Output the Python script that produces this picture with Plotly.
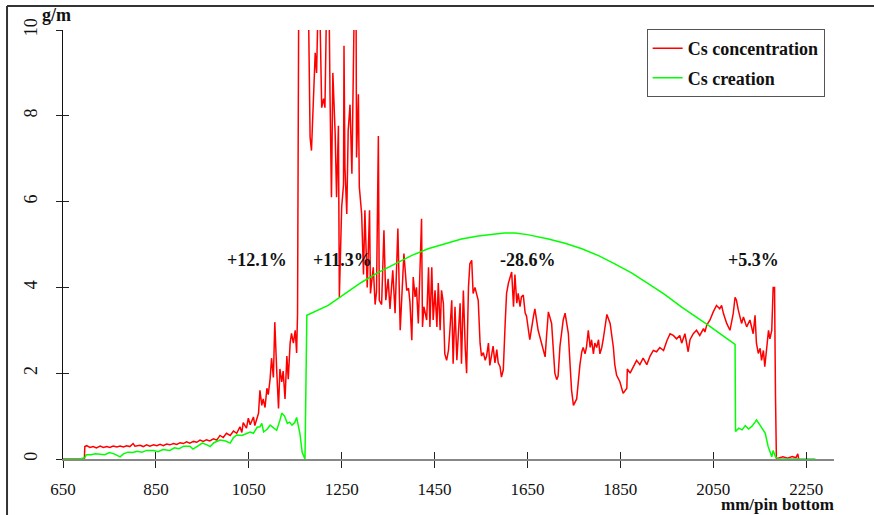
import plotly.graph_objects as go

# ---------------- data ----------------
conc_x = [650, 696, 697, 701, 708, 715, 722, 730, 737, 744, 751, 758, 766, 773, 780, 787, 794, 801, 805,
          816, 823, 830, 837, 845, 852, 859, 866, 873, 880, 888, 895, 902, 909, 916, 923, 931, 938, 945,
          952, 959, 966, 974, 981, 988, 995, 1002, 1010, 1017, 1024, 1031, 1035, 1038, 1045, 1049, 1053,
          1060, 1063, 1067, 1071, 1074, 1078, 1081, 1085, 1089, 1092, 1096, 1099, 1103, 1106, 1110, 1114,
          1117, 1121, 1124, 1128, 1132, 1135, 1139, 1142, 1146, 1150, 1153, 1155, 1158, 1160, 1178, 1182,
          1185, 1189, 1193, 1196, 1200, 1203, 1207, 1211, 1214, 1218, 1223, 1225, 1228, 1231, 1236, 1239,
          1243, 1245, 1250, 1254, 1255, 1257, 1261, 1264, 1268, 1272, 1274, 1277, 1281, 1282, 1286, 1288,
          1293, 1297, 1300, 1305, 1310, 1312, 1318, 1322, 1325, 1329, 1331, 1336, 1341, 1345, 1350, 1354,
          1360, 1365, 1371, 1374, 1376, 1384, 1390, 1394, 1397, 1401, 1404, 1408, 1411, 1415, 1419, 1422,
          1424, 1427, 1433, 1437, 1440, 1444, 1447, 1451, 1455, 1458, 1462, 1465, 1469, 1472, 1476, 1480,
          1483, 1487, 1490, 1494, 1498, 1501, 1505, 1508, 1512, 1516, 1519, 1523, 1526, 1530, 1533, 1537,
          1541, 1544, 1548, 1551, 1555, 1559, 1562, 1566, 1569, 1573, 1576, 1580, 1584, 1587, 1591, 1594,
          1598, 1602, 1605, 1609, 1612, 1616, 1620, 1623, 1627, 1630, 1634, 1637, 1641, 1645, 1648, 1655,
          1663, 1666, 1673, 1681, 1688, 1691, 1695, 1702, 1706, 1709, 1713, 1716, 1720, 1724, 1727, 1731,
          1734, 1738, 1742, 1745, 1749, 1756, 1763, 1767, 1770, 1774, 1777, 1781, 1785, 1788, 1792, 1795,
          1799, 1803, 1806, 1810, 1813, 1821, 1828, 1835, 1838, 1842, 1849, 1856, 1864, 1865, 1871, 1878,
          1885, 1892, 1899, 1907, 1914, 1921, 1928, 1935, 1943, 1950, 1957, 1964, 1971, 1978, 1982, 1989,
          1996, 2000, 2007, 2014, 2021, 2029, 2032, 2036, 2043, 2050, 2057, 2064, 2068, 2072, 2079, 2086,
          2093, 2097, 2100, 2104, 2108, 2111, 2115, 2122, 2129, 2136, 2140, 2143, 2147, 2151, 2154, 2158,
          2161, 2165, 2169, 2172, 2176, 2179, 2182, 2184, 2186, 2190, 2200, 2210, 2220, 2228, 2232, 2234]
conc_y = [0, 0, 0.29, 0.31, 0.27, 0.29, 0.26, 0.30, 0.27, 0.29, 0.27, 0.30, 0.28, 0.30, 0.28, 0.31, 0.29,
          0.36, 0.30, 0.32, 0.29, 0.33, 0.30, 0.33, 0.31, 0.34, 0.31, 0.35, 0.33, 0.36, 0.34, 0.38, 0.36,
          0.40, 0.37, 0.41, 0.39, 0.44, 0.41, 0.45, 0.42, 0.47, 0.44, 0.55, 0.50, 0.60, 0.55, 0.65, 0.60,
          0.75, 0.62, 0.85, 0.72, 0.95, 0.80, 0.98, 0.78, 0.95, 1.07, 1.60, 1.25, 1.40, 1.20, 1.65, 1.50,
          1.88, 2.35, 1.90, 3.19, 2.10, 1.18, 2.10, 1.80, 2.05, 1.40, 2.40, 1.86, 2.70, 2.93, 2.70, 3.00,
          2.47, 3.39, 12.0, 12.0, 11.0, 7.5, 7.19, 8.58, 9.47, 9.0, 11.0, 10.5, 8.19, 8.4, 8.19, 11.0, 10.5,
          8.4, 6.1, 9.0, 7.58, 6.1, 7.77, 3.77, 5.87, 6.4, 9.63, 6.8, 5.71, 7.65, 8.26, 6.65, 8.0, 10.5,
          10.5, 7.03, 8.5, 6.34, 5.71, 4.3, 5.8, 4.0, 5.8, 3.86, 4.47, 3.6, 3.9, 7.53, 3.7, 3.6, 5.33, 3.7,
          4.2, 3.5, 4.4, 3.4, 5.37, 3.3, 3.0, 4.79, 3.93, 3.98, 3.65, 2.77, 4.24, 3.78, 4.0, 3.16, 4.38,
          5.6, 3.08, 3.55, 3.24, 4.47, 3.08, 4.47, 3.24, 3.93, 3.08, 4.1, 3.0, 3.93, 3.63, 2.45, 2.3, 2.54,
          3.0, 3.7, 2.22, 3.55, 2.3, 3.0, 3.63, 2.22, 3.93, 2.6, 2.0, 4.0, 4.55, 4.63, 3.86, 4.0, 3.78, 3.7,
          2.7, 2.4, 2.48, 2.3, 2.4, 2.7, 2.18, 2.4, 2.63, 2.24, 2.55, 2.24, 2.15, 1.91, 2.08, 3.16, 3.86,
          4.1, 4.2, 4.36, 3.55, 4.3, 3.63, 3.86, 3.55, 3.78, 3.82, 3.41, 3.33, 2.78, 3.33, 3.5, 3.0, 2.7,
          2.38, 2.85, 3.43, 3.16, 2.3, 2.0, 1.85, 1.93, 2.63, 3.0, 3.24, 3.4, 3.16, 2.93, 2.15, 1.6, 1.25,
          1.4, 2.2, 2.5, 2.6, 2.45, 2.6, 3.0, 2.6, 2.78, 2.45, 2.7, 2.6, 2.78, 2.45, 2.6, 2.78, 3.37, 3.16,
          2.6, 2.2, 1.95, 1.8, 1.53, 1.65, 2.1, 2.0, 2.15, 2.3, 2.2, 2.35, 2.2, 2.4, 2.53, 2.5, 2.6, 2.53,
          2.75, 2.92, 2.88, 2.8, 2.88, 2.7, 2.92, 2.5, 2.78, 2.92, 3.0, 2.88, 3.04, 2.96, 3.12, 3.24, 3.43,
          3.58, 3.5, 3.58, 3.39, 3.16, 3.0, 3.39, 3.77, 3.7, 3.47, 3.24, 3.16, 3.31, 3.08, 3.24, 2.92, 3.35,
          2.7, 2.46, 2.58, 2.3, 2.53, 2.15, 2.6, 3.0, 2.8, 3.0, 4.0, 4.0, 1.5, 0.0, 0.02, 0.05, 0.02, 0.06,
          0.03, 0.12, 0.0]

crea_x = [650, 686, 697, 700, 710, 720, 740, 750, 760, 773, 780, 790, 800, 810, 820, 830, 845, 855, 865,
          880, 890, 900, 910, 923, 930, 940, 950, 960, 967, 975, 988, 1000, 1010, 1017, 1024, 1035, 1046,
          1053, 1060, 1068, 1074, 1078, 1082, 1090, 1096, 1103, 1110, 1117, 1121, 1127, 1133, 1138, 1143,
          1149, 1153, 1160, 1165, 1171, 1175, 1221, 1257, 1293, 1329, 1365, 1400, 1436, 1472, 1508, 1544,
          1580, 1600, 1623, 1650, 1695, 1731, 1767, 1803, 1838, 1874, 1910, 1946, 1982, 2010, 2039, 2066,
          2093, 2097, 2098, 2105, 2112, 2119, 2126, 2133, 2140, 2143, 2150, 2157, 2162, 2168, 2176, 2179,
          2184, 2190, 2270]
crea_y = [0, 0, 0.03, 0.1, 0.1, 0.12, 0.1, 0.15, 0.12, 0.05, 0.12, 0.16, 0.15, 0.18, 0.16, 0.2, 0.2, 0.17,
          0.22, 0.2, 0.26, 0.24, 0.3, 0.3, 0.23, 0.3, 0.37, 0.33, 0.29, 0.38, 0.44, 0.42, 0.37, 0.5, 0.56,
          0.55, 0.6, 0.63, 0.6, 0.74, 0.75, 0.83, 0.63, 0.7, 0.79, 0.72, 0.67, 0.9, 1.07, 1.0, 0.83, 0.86,
          0.79, 0.85, 0.97, 0.6, 0.15, 0.0, 3.35, 3.58, 3.85, 4.12, 4.35, 4.55, 4.74, 4.90, 5.02, 5.13, 5.2,
          5.25, 5.27, 5.27, 5.23, 5.13, 5.03, 4.90, 4.74, 4.55, 4.34, 4.09, 3.83, 3.54, 3.34, 3.12, 2.91,
          2.69, 2.67, 0.64, 0.72, 0.68, 0.78, 0.7, 0.76, 0.86, 0.91, 0.8, 0.7, 0.6, 0.3, 0.05, 0.2, 0.05,
          0.0, 0.0]

x_ticks = [650, 850, 1050, 1250, 1450, 1650, 1850, 2050, 2250]
y_ticks = [0, 2, 4, 6, 8, 10]
ann_x = [1067, 1251, 1652, 2136]
ann_y = [4.65, 4.65, 4.65, 4.65]
ann_text = ["+12.1%", "+11.3%", "-28.6%", "+5.3%"]

FONT = "Liberation Serif"

fig = go.Figure()
fig.add_trace(go.Scatter(x=conc_x, y=conc_y, mode="lines", name="<b>Cs concentration</b>",
                         legendgroup="a", line=dict(color="#ff0000", width=1.5)))
fig.add_trace(go.Scatter(x=crea_x, y=crea_y, mode="lines", name="<b>Cs creation</b>",
                         legendgroup="b", line=dict(color="#00ff00", width=1.5)))
# helper trace so the overlay axes (inner half of crossing ticks) get drawn
fig.add_trace(go.Scatter(x=[None], y=[None], xaxis="x2", yaxis="y2", showlegend=False,
                         hoverinfo="skip"))

for xv, yv, t in zip(ann_x, ann_y, ann_text):
    fig.add_annotation(x=xv, y=yv, text="<b>" + t + "</b>", showarrow=False,
                       font=dict(family=FONT, size=18, color="#111"))

fig.add_annotation(xref="paper", yref="paper", x=-0.008, y=1.035, xanchor="center", yanchor="middle",
                   text="<b>g/m</b>", showarrow=False,
                   font=dict(family=FONT, size=18, color="#111"))
fig.add_annotation(xref="paper", yref="paper", x=1.003, y=-0.105, xanchor="right", yanchor="middle",
                   text="<b>mm/pin bottom</b>", showarrow=False,
                   font=dict(family=FONT, size=17, color="#111"))

# frame lines (top and left edge of the picture)
fig.add_shape(type="line", xref="paper", yref="paper", x0=-0.0726, x1=1.06, y0=1.056, y1=1.056,
              line=dict(color="#333", width=2))
fig.add_shape(type="line", xref="paper", yref="paper", x0=-0.0726, x1=-0.0726, y0=-0.2, y1=1.056,
              line=dict(color="#333", width=2))

fig.update_layout(
    width=874, height=515,
    margin=dict(l=63, r=40, t=30, b=56, autoexpand=False),
    paper_bgcolor="white", plot_bgcolor="white",
    font=dict(family=FONT, size=18, color="#111"),
    showlegend=True,
    legend=dict(x=0.757, y=1.002, xanchor="left", yanchor="top",
                bordercolor="#555", borderwidth=1, bgcolor="white",
                tracegroupgap=3,
                font=dict(family=FONT, size=18, color="#111")),
    xaxis=dict(range=[650, 2310], tickvals=x_ticks, ticks="outside", ticklen=7, tickwidth=1,
               tickcolor="#222", showline=True, linecolor="#888", linewidth=2, showgrid=False,
               zeroline=False, ticklabelstandoff=7, tickfont=dict(size=17), automargin=False),
    yaxis=dict(range=[0, 10], tickvals=y_ticks, ticks="outside", ticklen=6, tickwidth=1,
               tickcolor="#222", showline=True, linecolor="#111", linewidth=1, showgrid=False,
               zeroline=False, tickangle=-90, ticklabelstandoff=12, tickfont=dict(size=18),
               automargin=False),
    xaxis2=dict(overlaying="x", matches="x", anchor="y", tickvals=x_ticks, ticks="inside",
                ticklen=7, tickwidth=1, tickcolor="#222", showticklabels=False, showline=False,
                showgrid=False, zeroline=False, side="bottom", automargin=False),
    yaxis2=dict(overlaying="y", matches="y", anchor="x", tickvals=y_ticks, ticks="inside",
                ticklen=6, tickwidth=1, tickcolor="#222", showticklabels=False, showline=False,
                showgrid=False, zeroline=False, side="left", automargin=False),
)

fig.write_html("out.html", config={"displayModeBar": False},
               post_script="document.body.style.margin='0';")
